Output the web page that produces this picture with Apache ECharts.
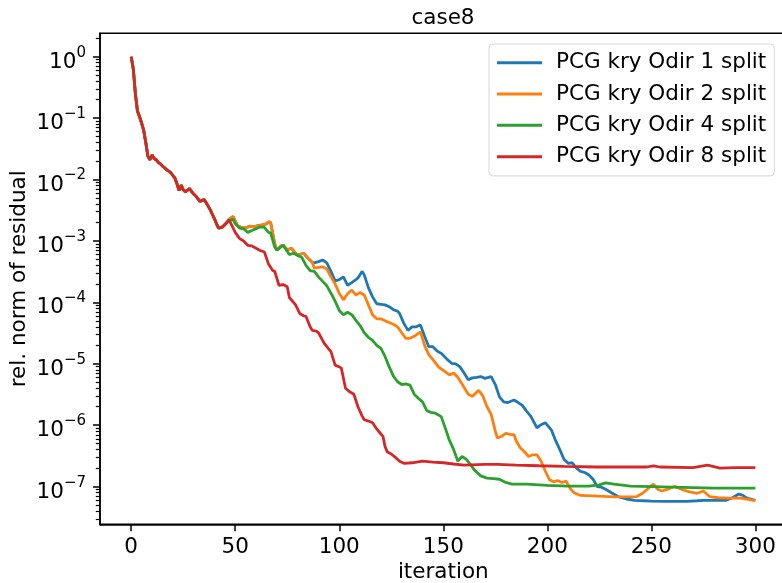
<!DOCTYPE html>
<html>
<head>
<meta charset="utf-8">
<script src="https://cdn.jsdelivr.net/npm/echarts@6/dist/echarts.min.js"></script>
<style>html,body{margin:0;padding:0;background:#fff;}#c{width:782px;height:583px;}</style>
</head>
<body>
<div id="c"></div>
<script>
// ---- data (iteration, relative residual) ----
const seriesNames = ['PCG kry Odir 1 split', 'PCG kry Odir 2 split', 'PCG kry Odir 4 split', 'PCG kry Odir 8 split'];
const xTicks = [0, 50, 100, 150, 200, 250, 300];
const yTicks = [1e-7, 1e-6, 1e-5, 1e-4, 1e-3, 1e-2, 1e-1, 1];
const yMinorTicks = [3e-8,4e-8,5e-8,6e-8,7e-8,8e-8,9e-8,2e-7,3e-7,4e-7,5e-7,6e-7,7e-7,8e-7,9e-7,2e-6,3e-6,4e-6,5e-6,6e-6,7e-6,8e-6,9e-6,2e-5,3e-5,4e-5,5e-5,6e-5,7e-5,8e-5,9e-5,2e-4,3e-4,4e-4,5e-4,6e-4,7e-4,8e-4,9e-4,2e-3,3e-3,4e-3,5e-3,6e-3,7e-3,8e-3,9e-3,2e-2,3e-2,4e-2,5e-2,6e-2,7e-2,8e-2,9e-2,0.2,0.3,0.4,0.5,0.6,0.7,0.8,0.9,2];

// common start of all four runs
const commonPart = [[0,1.0],[1,0.63],[2,0.25],[3,0.13],[4,0.105],[5,0.083],[6,0.063],[7,0.04],[8,0.024],[9,0.021],[10,0.025],[11,0.022],[12,0.021],[13,0.019],[14,0.018],[15,0.0166],[17,0.0145],[19,0.0129],[21,0.0105],[22,0.0085],[23,0.0066],[24,0.0081],[25,0.0068],[26,0.0063],[28,0.0071],[30,0.0058],[31,0.0054],[33,0.0044],[35,0.0047],[36,0.0042],[38,0.0032],[40,0.0023],[41,0.0019],[42,0.00162],[44,0.0017],[46,0.002]];
// shared by Odir 1 and Odir 2
const odir12Part = [[47,0.00224],[49,0.0025],[51,0.00178],[53,0.00166],[55,0.00162],[57,0.00174],[59,0.0017],[61,0.00178],[63,0.00182],[65,0.0019],[66,0.00204],[67,0.002],[69,0.00089],[70,0.00071],[72,0.00083],[73,0.00085],[75,0.00072],[77,0.00076],[79,0.00063],[80,0.00059],[83,0.00063],[85,0.00052],[87,0.00045]];
const odir1Part = [[88,4.4e-4],[90,4.6e-4],[92,4.9e-4],[94,4.4e-4],[96,3.2e-4],[98,2.24e-4],[100,2.34e-4],[102,2.6e-4],[104,1.9e-4],[106,2.1e-4],[108,2.34e-4],[109,2.5e-4],[111,3.2e-4],[112,2.8e-4],[114,1.74e-4],[116,1.23e-4],[118,9.5e-5],[120,9.3e-5],[122,9.1e-5],[124,8.5e-5],[126,7.6e-5],[128,7.2e-5],[129,6.6e-5],[131,4.6e-5],[133,3.5e-5],[135,4.0e-5],[137,4.0e-5],[139,4.3e-5],[141,2.8e-5],[143,1.9e-5],[145,1.9e-5],[147,1.62e-5],[149,1.48e-5],[152,1.17e-5],[154,1.02e-5],[156,1.0e-5],[158,8.9e-6],[160,7.1e-6],[162,5.5e-6],[164,5.9e-6],[166,6.0e-6],[168,6.2e-6],[170,5.8e-6],[173,6.2e-6],[175,4.6e-6],[177,2.9e-6],[179,2.4e-6],[181,2.34e-6],[184,2.57e-6],[186,2.34e-6],[188,2.1e-6],[190,1.7e-6],[192,1.41e-6],[195,9.1e-7],[197,1.02e-6],[199,1.1e-6],[202,8.3e-7],[204,5.6e-7],[206,4.0e-7],[208,2.8e-7],[210,2.4e-7],[212,2.45e-7],[214,2.0e-7],[216,1.78e-7],[218,1.7e-7],[220,1.55e-7],[222,1.32e-7],[224,1.0e-7],[226,9.8e-8],[228,9.1e-8],[231,7.9e-8],[234,6.9e-8],[238,6.3e-8],[242,6.0e-8],[246,5.9e-8],[250,5.8e-8],[256,5.75e-8],[262,5.75e-8],[267,5.75e-8],[272,5.9e-8],[275,6.0e-8],[280,6.0e-8],[286,6.0e-8],[289,6.6e-8],[292,7.6e-8],[294,7.2e-8],[296,6.5e-8],[300,6.0e-8]];
const odir2Part = [[88,3.6e-4],[90,3.7e-4],[92,3.8e-4],[94,3.5e-4],[96,2.6e-4],[98,2.0e-4],[100,1.4e-4],[102,1.1e-4],[104,1.38e-4],[106,1.58e-4],[108,1.32e-4],[110,1.45e-4],[112,1.32e-4],[114,9.1e-5],[116,6.3e-5],[118,5.4e-5],[120,5.4e-5],[122,5.0e-5],[124,4.7e-5],[126,4.4e-5],[128,4.0e-5],[130,3.2e-5],[132,2.6e-5],[134,2.6e-5],[136,2.8e-5],[139,3.3e-5],[141,2.0e-5],[143,1.41e-5],[145,1.17e-5],[148,8.7e-6],[151,7.4e-6],[153,6.6e-6],[155,7.1e-6],[157,6.0e-6],[159,4.7e-6],[162,3.2e-6],[164,2.95e-6],[167,3.7e-6],[169,3.0e-6],[171,2.0e-6],[173,1.5e-6],[175,8.0e-7],[176,6.2e-7],[178,6.6e-7],[180,7.4e-7],[182,7.1e-7],[184,7.0e-7],[185,5.6e-7],[187,4.3e-7],[189,3.7e-7],[191,3.1e-7],[193,3.3e-7],[195,3.3e-7],[197,2.6e-7],[199,1.8e-7],[201,1.3e-7],[203,1.2e-7],[205,1.26e-7],[207,1.17e-7],[209,1.23e-7],[211,9.3e-8],[213,7.9e-8],[216,7.2e-8],[222,7.1e-8],[232,6.8e-8],[243,6.9e-8],[246,7.9e-8],[248,9.1e-8],[251,1.1e-7],[253,9.1e-8],[255,8.5e-8],[258,9.1e-8],[261,1.02e-7],[263,9.5e-8],[265,8.9e-8],[268,8.3e-8],[272,7.8e-8],[275,8.5e-8],[278,6.9e-8],[282,6.6e-8],[287,6.5e-8],[293,6.5e-8],[300,5.9e-8]];
const odir4Part = [[47,2.14e-3],[49,2.24e-3],[50,1.9e-3],[52,1.62e-3],[54,1.58e-3],[56,1.38e-3],[58,1.48e-3],[60,1.58e-3],[62,1.7e-3],[64,1.66e-3],[66,1.38e-3],[67,1.35e-3],[69,7.9e-4],[70,7.1e-4],[73,8.5e-4],[74,7.6e-4],[76,6.0e-4],[78,6.3e-4],[80,5.8e-4],[82,5.4e-4],[84,4.0e-4],[86,3.3e-4],[88,3.2e-4],[90,2.6e-4],[92,2.2e-4],[94,1.86e-4],[96,1.41e-4],[98,1.05e-4],[100,7.4e-5],[102,6.3e-5],[104,6.9e-5],[106,6.3e-5],[108,5.1e-5],[110,4.2e-5],[112,3.2e-5],[114,2.7e-5],[116,2.4e-5],[118,2.0e-5],[120,1.78e-5],[122,1.32e-5],[124,8.9e-6],[126,6.3e-6],[128,5.1e-6],[130,4.6e-6],[132,4.7e-6],[134,4.5e-6],[136,3.2e-6],[138,2.75e-6],[140,2.4e-6],[142,1.74e-6],[144,1.62e-6],[146,1.58e-6],[149,1.38e-6],[151,8.9e-7],[153,5.6e-7],[155,4.0e-7],[157,2.6e-7],[159,3.1e-7],[161,2.8e-7],[163,2.3e-7],[165,1.86e-7],[168,1.5e-7],[171,1.38e-7],[174,1.35e-7],[177,1.32e-7],[180,1.17e-7],[183,1.1e-7],[190,1.1e-7],[200,1.05e-7],[210,1.02e-7],[220,1.02e-7],[225,1.07e-7],[228,1.15e-7],[232,1.1e-7],[240,1.02e-7],[250,1.0e-7],[260,9.8e-8],[280,9.5e-8],[300,9.5e-8]];
const odir8Part = [[47,2.2e-3],[48,1.9e-3],[50,1.38e-3],[52,1.1e-3],[54,1.0e-3],[56,8.5e-4],[58,8.3e-4],[60,7.6e-4],[62,7.0e-4],[64,6.6e-4],[66,4.2e-4],[68,3.3e-4],[69,3.2e-4],[71,1.9e-4],[73,1.95e-4],[75,1.8e-4],[76,1.2e-4],[78,1.0e-4],[79,9.1e-5],[81,6.6e-5],[83,6.0e-5],[84,5.9e-5],[86,4.0e-5],[87,3.5e-5],[89,3.4e-5],[90,3.2e-5],[92,2.4e-5],[93,2.1e-5],[95,1.74e-5],[96,1.58e-5],[98,9.5e-6],[100,8.9e-6],[101,8.5e-6],[103,4.0e-6],[105,3.5e-6],[107,3.2e-6],[109,2.0e-6],[111,1.41e-6],[112,1.23e-6],[114,1.17e-6],[116,1.1e-6],[118,8.7e-7],[120,7.2e-7],[121,6.6e-7],[122,4.5e-7],[123,3.7e-7],[125,3.4e-7],[127,3.0e-7],[129,2.6e-7],[131,2.4e-7],[135,2.45e-7],[140,2.6e-7],[145,2.5e-7],[150,2.45e-7],[155,2.34e-7],[160,2.24e-7],[170,2.3e-7],[176,2.3e-7],[185,2.24e-7],[196,2.19e-7],[208,2.14e-7],[224,2.09e-7],[240,2.09e-7],[248,2.09e-7],[251,2.19e-7],[254,2.09e-7],[270,2.04e-7],[277,2.24e-7],[283,2.0e-7],[290,2.04e-7],[300,2.04e-7]];

const colors = ['#1f77b4', '#ff7f0e', '#2ca02c', '#d62728'];
const seriesData = [
  commonPart.concat(odir12Part, odir1Part),
  commonPart.concat(odir12Part, odir2Part),
  commonPart.concat(odir4Part),
  commonPart.concat(odir8Part)
];

const FONT = 'DejaVu Sans';
const FS = 21.5;
const chart = echarts.init(document.getElementById('c'), null, {renderer: 'canvas'});

function expLabel(v) {
  const e = Math.round(Math.log10(v));
  const s = e < 0 ? '\u2212' + Math.abs(e) : String(e);
  return '{b|10}{s|' + s + '}';
}

chart.setOption({
  animation: false,
  backgroundColor: '#fff',
  title: {
    text: 'case8', left: 443, top: 7, padding: 0, textAlign: 'center',
    textStyle: {fontFamily: FONT, fontSize: FS, fontWeight: 'normal', color: '#000'}
  },
  legend: {
    orient: 'vertical', left: 489, top: 44,
    padding: [6.5, 8, 7, 8],
    itemWidth: 45, itemHeight: 3, itemGap: 6.8,
    icon: 'rect',
    backgroundColor: '#fff', borderColor: '#d6d6d6', borderWidth: 1, borderRadius: 4,
    textStyle: {fontFamily: FONT, fontSize: FS, color: '#000', lineHeight: 21.5, padding: [3, 0, 0, 9]},
    data: seriesNames
  },
  grid: {
    left: 100, right: -4.6, top: 33.3, bottom: 58.7,
    containLabel: false, outerBoundsMode: 'none',
    show: true, borderColor: '#000', borderWidth: 1.5, backgroundColor: 'transparent'
  },
  xAxis: {
    type: 'value', min: -15, max: 315,
    name: 'iteration', nameLocation: 'middle', nameGap: 37, nameMoveOverlap: false,
    nameTextStyle: {fontFamily: FONT, fontSize: FS, color: '#000'},
    axisLine: {show: true, onZero: false, lineStyle: {color: '#000', width: 1.5}},
    axisTick: {show: true, length: 7, lineStyle: {color: '#000', width: 1.5}, customValues: xTicks},
    axisLabel: {fontFamily: FONT, fontSize: FS, color: '#000', margin: 12, customValues: xTicks},
    splitLine: {show: false}
  },
  yAxis: [{
    type: 'log', logBase: 10, min: 2.44e-8, max: 2.4,
    name: 'rel. norm of residual', nameLocation: 'middle', nameGap: 70, nameMoveOverlap: false,
    nameTextStyle: {fontFamily: FONT, fontSize: FS, color: '#000'},
    axisLine: {show: true, onZero: false, lineStyle: {color: '#000', width: 1.5}},
    axisTick: {show: true, length: 7, lineStyle: {color: '#000', width: 1.5}, customValues: yTicks},
    axisLabel: {
      customValues: yTicks, margin: 14, padding: [5, 0, 0, 0],
      formatter: expLabel,
      rich: {
        b: {fontFamily: FONT, fontSize: FS, color: '#000', lineHeight: 28, verticalAlign: 'bottom'},
        s: {fontFamily: FONT, fontSize: 15, color: '#000', lineHeight: 15, verticalAlign: 'top'}
      }
    },
    splitLine: {show: false}
  }, {
    type: 'log', logBase: 10, min: 2.44e-8, max: 2.4, position: 'left', offset: 0,
    axisLine: {show: false, onZero: false},
    axisTick: {show: true, length: 4.2, lineStyle: {color: '#000', width: 1.2}, customValues: yMinorTicks},
    axisLabel: {show: false},
    splitLine: {show: false}
  }],
  series: seriesData.map((d, k) => ({
    name: seriesNames[k], type: 'line', data: d,
    showSymbol: false, symbol: 'none', smooth: false,
    lineStyle: {color: colors[k], width: 2.8},
    itemStyle: {color: colors[k]},
    emphasis: {disabled: true}
  }))
});
</script>
</body>
</html>
